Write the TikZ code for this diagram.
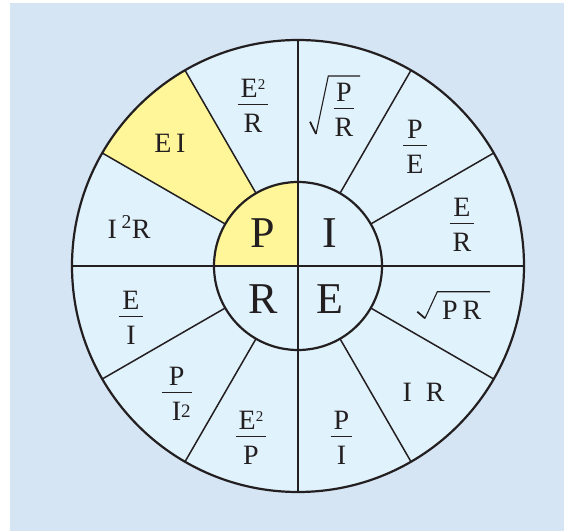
\documentclass[tikz,border=0pt]{standalone}
\usepackage{fix-cm}
\usepackage{fontspec}
\setmainfont{Liberation Serif}
\usetikzlibrary{calc}
\definecolor{bg}{RGB}{213,229,244}
\definecolor{ring}{RGB}{224,242,251}
\definecolor{yel}{RGB}{255,246,153}
\definecolor{ink}{RGB}{35,31,32}
\newcommand\fr[3][3pt]{{\renewcommand\arraystretch{0}\setlength\arrayrulewidth{1.2pt}\begin{tabular}{@{\hspace{#1}}c@{\hspace{#1}}}\rule[-6pt]{0pt}{1pt}#2\\\hline\rule{0pt}{28pt}#3\end{tabular}}}
\newcommand\tsq{\raisebox{8.5pt}{\fontsize{15}{15}\selectfont 2}}
\tikzset{
  lab/.style={inner sep=0pt, text=ink, font=\fontsize{28}{34}\selectfont},
  big/.style={inner sep=0pt, text=ink, font=\fontsize{44}{50}\selectfont},
  spoke/.style={draw=ink, line width=1.5pt},
  rim/.style={draw=ink, line width=2.2pt},
  radical/.style={draw=ink, line width=1.1pt, line join=miter},
  tick/.style={draw=ink, line width=1.8pt}
}
\begin{document}
\begin{tikzpicture}[x=1pt,y=1pt]
\useasboundingbox (0,0) rectangle (565,531);
\fill[bg] (10,0) rectangle (564,528);
\coordinate (O) at (298,265);
\fill[ring] (O) circle (226);
\fill[yel] (O) -- ($(O)+(120:226)$) arc[start angle=120,end angle=150,radius=226] -- cycle;
\fill[ring] (O) circle (84);
\fill[yel] (O) -- ($(O)+(90:84)$) arc[start angle=90,end angle=180,radius=84] -- cycle;
\foreach \a in {30,60,120,150,210,240,300,330}
  \draw[spoke] ($(O)+(\a:84)$) -- ($(O)+(\a:226)$);
\draw[spoke] ($(O)+(-226,0)$) -- ($(O)+(226,0)$);
\draw[spoke] ($(O)+(0,-226)$) -- ($(O)+(0,226)$);
\draw[rim] (O) circle (226);
\draw[rim] (O) circle (84);
% inner letters
\node[big] (P) at ($(O)+(-35,33)$) {P};
\node[big] (I) at ($(O)+(32,33)$) {I};
\node[big] (R) at ($(O)+(-35,-33)$) {R};
\node[big] (E) at ($(O)+(32,-33)$) {E};
% ring labels
\node[lab] (e2r) at ($(O)+(-45,160)$) {\fr{E\tsq}{R}};
\node[lab] (sqpr) at ($(O)+(46,156)$) {\fr[1pt]{P}{R}};
\draw[tick] (310,409.3) -- (316,397);
\draw[radical] (316,397) -- (328.3,455) -- (360,455);
\node[lab] (pe) at ($(O)+(117,119)$) {\fr{P}{E}};
\node[lab] (er) at ($(O)+(164,41)$) {\fr{E}{R}};
\node[lab] (spr) at ($(O)+(163.7,-44.3)$) {P\hspace{5pt}R};
\draw[tick] (417.3,219.3) -- (425,212.7);
\draw[radical] (425,212.7) -- (437.3,239.3) -- (490,239.3);
\node[lab] (ir) at ($(O)+(125.5,-126)$) {I\hspace{0.5em}R};
\node[lab] (pi) at ($(O)+(43.5,-172)$) {\fr{P}{I}};
\node[lab] (e2p) at ($(O)+(-47,-172)$) {\fr{E\tsq}{P}};
\node[lab] (pi2) at ($(O)+(-121.3,-128)$) {\fr[1pt]{P}{\hspace*{9pt}I\raisebox{3.5pt}{\fontsize{19}{19}\selectfont 2}}};
\node[lab] (ei) at ($(O)+(-167,-52)$) {\fr{E}{I}};
\node[lab] (i2r) at ($(O)+(-169,39)$) {I\,\textsuperscript{2}R};
\node[lab] (eI) at ($(O)+(-128,123)$) {E\,I};
\end{tikzpicture}
\end{document}
